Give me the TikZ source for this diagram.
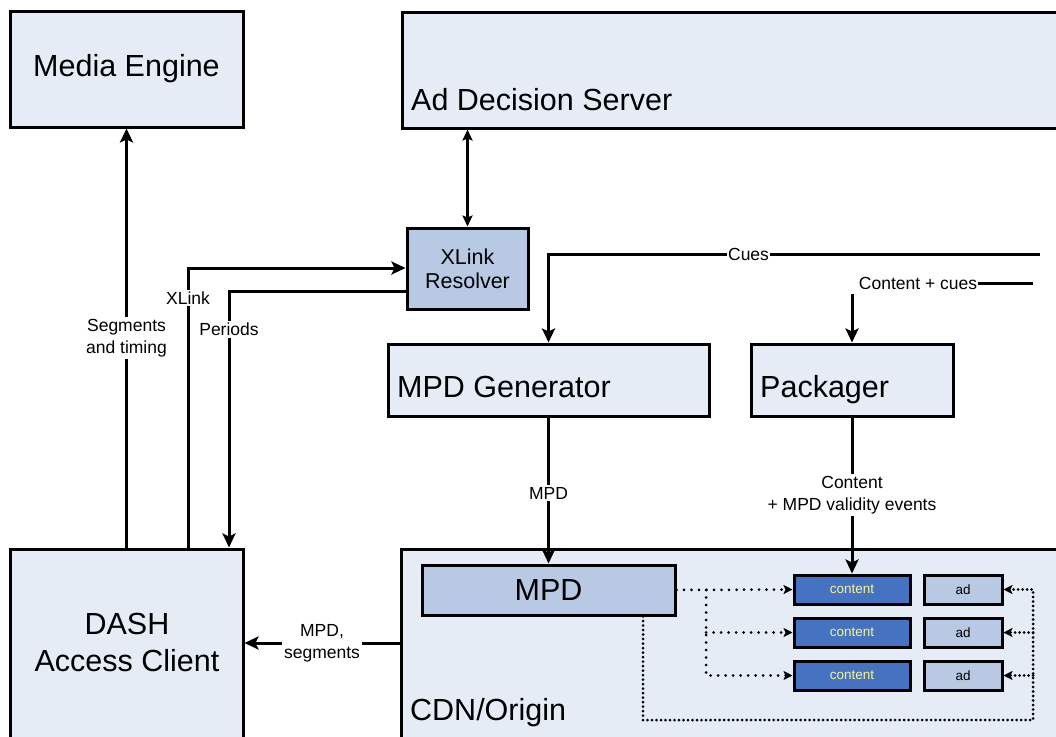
\documentclass[tikz,border=0pt]{standalone}
\usepackage{fontspec}
\setmainfont{Liberation Sans}
\usetikzlibrary{arrows.meta,calc}
\definecolor{boxfill}{HTML}{E6ECF6}
\definecolor{darkfill}{HTML}{B8C9E3}
\definecolor{contfill}{HTML}{4673C1}
\definecolor{conttext}{HTML}{F5F58C}
\newcommand\bigf{\fontsize{30.5}{37}\selectfont}
\newcommand\midf{\fontsize{21.5}{24}\selectfont}
\newcommand\lblf{\fontsize{17.5}{22}\selectfont}
\newcommand\smallf{\fontsize{13.5}{15}\selectfont}
\begin{document}
\begin{tikzpicture}[x=1pt,y=-1pt,
  box/.style={draw=black,line width=3pt,fill=boxfill,inner sep=0pt},
  dbox/.style={box,fill=darkfill},
  cbox/.style={box,fill=contfill,text=conttext,font=\smallf,minimum width=116pt,minimum height=29pt},
  abox/.style={box,fill=darkfill,font=\smallf,minimum width=78pt,minimum height=29pt},
  btext/.style={inner sep=0pt,font=\bigf},
  conn/.style={line width=3pt},
  arr/.style={conn,-{Stealth[length=14pt,width=13pt,inset=3pt]}},
  darr/.style={line width=2.2pt,{Stealth[length=11pt,width=10pt,inset=2pt]}-{Stealth[length=11pt,width=10pt,inset=2pt]}},
  lbl/.style={fill=white,font=\lblf,align=center,inner sep=2pt},
  dotA/.style={line width=3pt,line cap=round,dash pattern=on 0pt off 7.5pt,-{Stealth[length=9pt,width=9pt,inset=2pt]}},
  dotB/.style={line width=3pt,line cap=round,dash pattern=on 0pt off 4.5pt,-{Stealth[length=9pt,width=9pt,inset=2pt]}}
]
\useasboundingbox (0,0) rectangle (1056,736);
\fill[white] (0,0) rectangle (1056,736);
\clip (0,0) rectangle (1056,736);

% boxes
\node[box,minimum width=233pt,minimum height=116pt,font=\bigf] (me) at (126.5,69) {Media Engine};
\node[box,minimum width=668pt,minimum height=116pt] (ads) at (736,70) {};
\node[btext,anchor=base west] (adst) at (411,110) {Ad Decision Server};
\node[dbox,minimum width=121pt,minimum height=81pt,font=\midf,align=center] (xr) at (467.5,268.5) {XLink\\Resolver};
\node[box,minimum width=321pt,minimum height=72pt] (gen) at (548.5,380) {};
\node[btext,anchor=base west] (gent) at (397,397) {MPD Generator};
\node[box,minimum width=202pt,minimum height=72pt] (pack) at (852,380) {};
\node[btext,anchor=base west] (packt) at (760,397) {Packager};
\node[box,minimum width=233pt,minimum height=222pt] (dash) at (126.5,660) {};
\node[btext,align=center,font=\fontsize{30.5}{37}\selectfont] (dasht) at (127,642) {DASH\\Access Client};
\node[box,minimum width=669pt,minimum height=221pt] (cdn) at (735.5,659.5) {};
\node[btext,anchor=base west] (cdnt) at (410,720) {CDN/Origin};
\node[dbox,minimum width=253pt,minimum height=50pt,font=\bigf] (mpd) at (548.5,590) {MPD};
\node[cbox] (c1) at (852,589.5) {content};
\node[cbox] (c2) at (852,632.5) {content};
\node[cbox] (c3) at (852,675.5) {content};
\node[abox] (a1) at (963,589.5) {ad};
\node[abox] (a2) at (963,632.5) {ad};
\node[abox] (a3) at (963,675.5) {ad};

% coordinates
\coordinate (xlx) at (188,268);
\coordinate (pery) at (229,291);
\coordinate (cuesR) at (1040,254);
\coordinate (ccR) at (1033,283);
\coordinate (msy) at (0,643);
\coordinate (bx) at (706,0);
\coordinate (lx) at (643,720);
\coordinate (rx) at (1033,0);

% connectors
\draw[arr] (dash.north) -- node[lbl,pos=0.5] {Segments\\and timing} (me.south);
\draw[arr] (dash.north -| xlx) -- node[lbl,pos=0.893] {XLink} (xlx) -- (xlx -| xr.west);
\draw[arr] (pery -| xr.west) -- (pery) -- node[lbl,pos=0.151] {Periods} (pery |- dash.north);
\draw[darr] (xr.north) -- (xr.north |- ads.south);
\draw[arr] (cuesR) -- node[lbl,pos=0.593,inner sep=1pt] {Cues} (cuesR -| gen.north) -- (gen.north);
\node[lbl,inner sep=1pt] (cc) at (918,283) {Content + cues};
\draw[conn] (ccR) -- (cc.east);
\draw[arr] ($(cc.south -| pack.north)+(0,4)$) -- (pack.north);
\draw[arr] (gen.south) -- node[lbl,pos=0.517] {MPD} (mpd.north);
\draw[arr] (pack.south) -- node[lbl,pos=0.497] {Content\\+ MPD validity events} (c1.north);
\draw[arr] (cdn.west |- msy) -- node[lbl] {MPD,\\segments} (dash.east |- msy);

% dotted links
\draw[dotA] (mpd.east) -- (c1.west);
\draw[dotA] (mpd.east -| bx) -- (c3.west -| bx) -- (c3.west);
\draw[dotA] (c2.west -| bx) -- (c2.west);
\draw[dotB] (mpd.south -| lx) -- (lx) -- (lx -| rx) -- (a1.east -| rx) -- (a1.east);
\draw[dotB] (a2.east -| rx) -- (a2.east);
\draw[dotB] (a3.east -| rx) -- (a3.east);
\end{tikzpicture}
\end{document}
